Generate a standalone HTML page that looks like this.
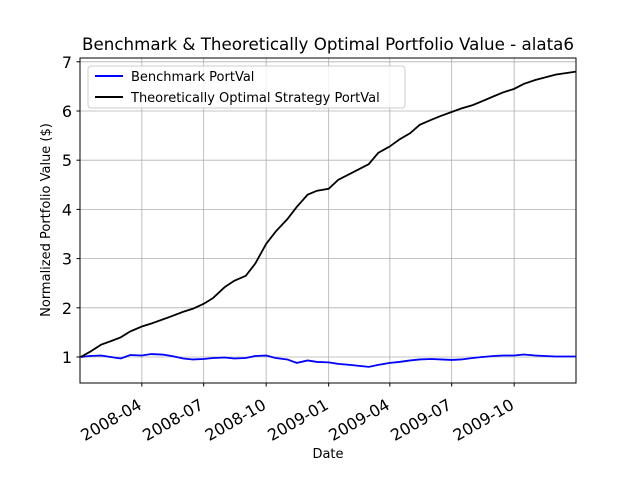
<!DOCTYPE html>
<html><head><meta charset="utf-8"><style>
body{margin:0;background:#fff;}
svg{display:block;font-family:"DejaVu Sans","Liberation Sans",sans-serif;}
</style></head><body>
<svg id="chart" width="640" height="480">
<rect width="640" height="480" fill="#fff"/>
<text x="328" y="50" text-anchor="middle" font-size="16.7">Benchmark &amp; Theoretically Optimal Portfolio Value - alata6</text>
<g id="grid"></g><g id="series"></g>
<rect x="80" y="58" width="496" height="325" fill="none" stroke="#000" stroke-width="1"/>
<g id="axes"></g>
<text x="328" y="458" text-anchor="middle" font-size="13">Date</text>
<text transform="translate(50,220) rotate(-90)" text-anchor="middle" font-size="13">Normalized Portfolio Value ($)</text>
<g>
<rect x="88" y="66" width="317" height="42" rx="3" fill="#fff" fill-opacity="0.8" stroke="#ccc"/>
<line x1="95" y1="76" x2="123" y2="76" stroke="#0000ff" stroke-width="2"/>
<text x="131" y="81" font-size="13">Benchmark PortVal</text>
<line x1="95" y1="97" x2="123" y2="97" stroke="#000" stroke-width="2"/>
<text x="131" y="102" font-size="13">Theoretically Optimal Strategy PortVal</text>
</g>
</svg>
<script>
const dates=["2008-01-02","2008-01-15","2008-02-01","2008-02-15","2008-03-01","2008-03-15","2008-04-01","2008-04-15","2008-05-01","2008-05-15","2008-06-01","2008-06-15","2008-07-01","2008-07-15","2008-08-01","2008-08-15","2008-09-01","2008-09-15","2008-10-01","2008-10-15","2008-11-01","2008-11-15","2008-12-01","2008-12-15","2009-01-01","2009-01-15","2009-02-01","2009-02-15","2009-03-01","2009-03-15","2009-04-01","2009-04-15","2009-05-01","2009-05-15","2009-06-01","2009-06-15","2009-07-01","2009-07-15","2009-08-01","2009-08-15","2009-09-01","2009-09-15","2009-10-01","2009-10-15","2009-11-01","2009-11-15","2009-12-01","2009-12-31"];
const optimal=[1.0,1.1,1.25,1.32,1.40,1.52,1.62,1.68,1.76,1.83,1.92,1.98,2.08,2.2,2.42,2.55,2.65,2.9,3.3,3.55,3.8,4.05,4.3,4.38,4.42,4.6,4.72,4.82,4.92,5.15,5.28,5.42,5.55,5.72,5.82,5.9,5.98,6.05,6.12,6.2,6.3,6.38,6.45,6.55,6.63,6.68,6.74,6.8];
const benchmark=[1.0,1.02,1.03,1.0,0.97,1.04,1.03,1.06,1.05,1.02,0.97,0.95,0.96,0.98,0.99,0.97,0.98,1.02,1.03,0.98,0.95,0.88,0.93,0.9,0.89,0.86,0.84,0.82,0.8,0.84,0.88,0.9,0.93,0.95,0.96,0.95,0.94,0.95,0.98,1.0,1.02,1.03,1.03,1.05,1.03,1.02,1.01,1.01];
const xTicks=["2008-04","2008-07","2008-10","2009-01","2009-04","2009-07","2009-10"];
const yTicks=[1,2,3,4,5,6,7];
const NS="http://www.w3.org/2000/svg";
const t0=Date.parse("2008-01-01"),t1=Date.parse("2009-12-31");
const X=d=>80+(Date.parse(d)-t0)/(t1-t0)*496;
const Y=v=>357-(v-1)*49.2;
const grid=document.getElementById('grid'),axes=document.getElementById('axes'),series=document.getElementById('series');
function mk(tag,attrs,parent){const e=document.createElementNS(NS,tag);for(const k in attrs)e.setAttribute(k,attrs[k]);parent.appendChild(e);return e;}
xTicks.forEach(t=>{const x=X(t+"-01");
 const g=mk('line',{x1:x,x2:x,y1:58,y2:383,stroke:'#b0b0b0','stroke-width':0.8},grid);
 
 
 const tk=mk('line',{x1:x,x2:x,y1:383,y2:386.5,stroke:'#000'},axes);
 
 
 const tx=mk('text',{x:x+1,y:408,'text-anchor':'end','font-size':16,transform:`rotate(-30 ${x+1} 408)`},axes);
 tx.textContent=t;
 
 
});
yTicks.forEach(v=>{const y=Y(v);
 const g=mk('line',{x1:80,x2:576,y1:y,y2:y,stroke:'#b0b0b0','stroke-width':0.8},grid);
 
 
 const tk=mk('line',{x1:76.5,x2:80,y1:y,y2:y,stroke:'#000'},axes);
 
 
 const tx=mk('text',{x:72,y:y+6,'text-anchor':'end','font-size':16},axes);
 tx.textContent=v;
 
 
});
function line(vals,color,name){
 const p=mk('polyline',{points:vals.map((v,i)=>X(dates[i])+','+Y(v)).join(' '),fill:'none',stroke:color,'stroke-width':1.8},series);
 
 
}
line(benchmark,'#0000ff','benchmark-line');
line(optimal,'#000000','optimal-line');
</script>
</body></html>
